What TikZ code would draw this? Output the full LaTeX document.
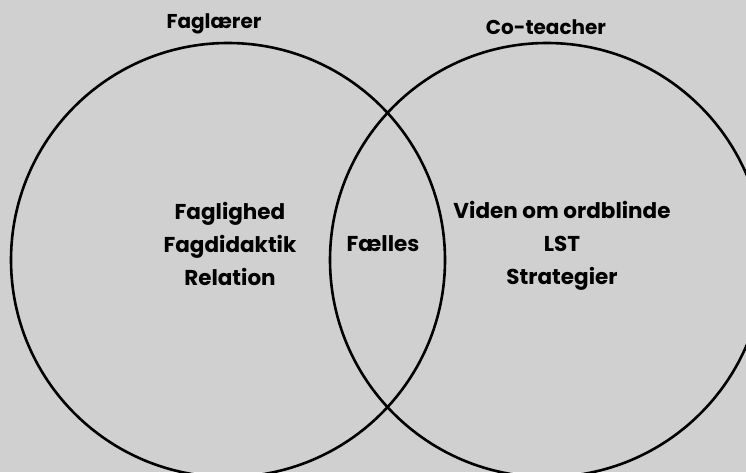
\documentclass[tikz,border=0pt]{standalone}
\usepackage{fontspec}
\setmainfont{Poppins}
\definecolor{bggray}{RGB}{208,208,208}
\begin{document}
\begin{tikzpicture}[x=1pt, y=1pt,
    ring/.style = {draw, circle, line width=2.6pt, minimum size=434pt, inner sep=0pt},
    head/.style = {font=\fontsize{20}{24}\selectfont\bfseries},
    field/.style = {align=center, font=\fontsize{21.5}{33}\selectfont\bfseries}]
    \fill[bggray] (0,0) rectangle (746,472);
    \useasboundingbox (0,0) rectangle (746,472);
    \clip (0,0) rectangle (746,472);
    \node[ring] (fag) at (228,212) {};
    \node[ring] (co) at (547,212) {};
    \node[head] (faghead) at (214,448) {Faglærer};
    \node[head] (cohead) at (546,445) {Co-teacher};
    \node[field] (fagtxt) at (230,228) {Faglighed\\Fagdidaktik\\Relation};
    \node[field] (faelles) at (383,228) {Fælles};
    \node[field] (cotxt) at (562,226) {Viden om ordblinde\\LST\\Strategier};
\end{tikzpicture}
\end{document}
